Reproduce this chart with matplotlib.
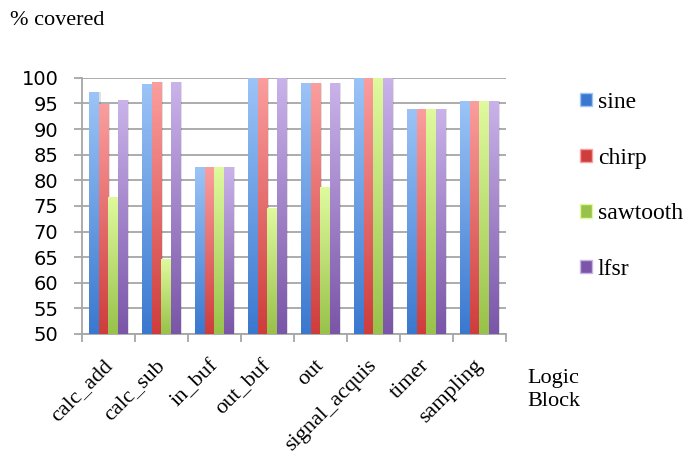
import matplotlib

matplotlib.use("Agg")
import matplotlib.pyplot as plt
import matplotlib.transforms as mtransforms
import numpy as np
from matplotlib.colors import LinearSegmentedColormap
from matplotlib.patches import Patch

blocks = ["calc_add", "calc_sub", "in_buf", "out_buf", "out",
          "signal_acquis", "timer", "sampling"]
series = ["sine", "chirp", "sawtooth", "lfsr"]
sine = [97.3, 98.8, 82.5, 100.0, 99.0, 100.0, 94.0, 95.5]
chirp = [94.8, 99.1, 82.5, 100.0, 98.9, 100.0, 94.0, 95.5]
sawtooth = [76.8, 64.7, 82.5, 74.6, 78.6, 100.0, 94.0, 95.5]
lfsr = [95.6, 99.1, 82.5, 100.0, 99.0, 100.0, 94.0, 95.5]

# (dark bottom, light top) for the gradient fill
SHADES = [("#3a78cf", "#9cc4f7"),
          ("#cf3c3c", "#fb9e9e"),
          ("#98c24a", "#e0fa9e"),
          ("#7a55a8", "#cab3ea")]
GRIDC = "#a6a6a6"
SERIF = "Liberation Serif"

fig = plt.figure(figsize=(6.89, 4.55), dpi=100)
ax = fig.add_axes([0.119, 0.266, 0.615, 0.563])

x = np.arange(len(blocks))
width = 0.18
ymin, ymax = 50, 100
grad = np.linspace(0, 1, 256).reshape(-1, 1)

for i, (vals, (dark, light), name) in enumerate(zip([sine, chirp, sawtooth, lfsr], SHADES, series)):
    pos = x - 1.5 * width + i * width
    bars = ax.bar(pos, np.array(vals) - ymin, width, bottom=ymin,
                  color="none", edgecolor="none", zorder=3)
    cmap = LinearSegmentedColormap.from_list(name, [dark, light])
    for b in bars:
        bx, by = b.get_x(), b.get_y()
        bw, bh = b.get_width(), b.get_height()
        # faint drop shadow
        ax.add_patch(plt.Rectangle((bx + 0.03, by), bw, bh, color="#000000",
                                   alpha=0.12, lw=0, zorder=2))
        im = ax.imshow(grad, extent=[bx, bx + bw, by, by + bh], origin="lower",
                       cmap=cmap, aspect="auto", zorder=3.5)
        im.set_clip_path(b)

ax.set_xlim(-0.5, len(blocks) - 0.5)
ax.set_ylim(ymin, ymax)
ax.set_yticks(np.arange(50, 101, 5))
ax.yaxis.grid(True, color=GRIDC, linewidth=1.3, zorder=0)
ax.set_axisbelow(True)

ax.set_xticks(x)
ax.set_xticklabels(blocks, rotation=45, ha="right", rotation_mode="anchor",
                   fontsize=16, family=SERIF)
ax.set_xticks(np.arange(-0.5, len(blocks)), minor=True)
ax.tick_params(axis="x", which="major", length=0, pad=16)
ax.tick_params(axis="x", which="minor", length=6, width=1.3, color=GRIDC)
ax.tick_params(axis="y", length=6, width=1.3, color=GRIDC, labelsize=14, pad=11)

for s in ["top", "right"]:
    ax.spines[s].set_visible(False)
for s in ["left", "bottom"]:
    ax.spines[s].set_color(GRIDC)
    ax.spines[s].set_linewidth(1.3)

fig.text(0.015, 0.956, "% covered", fontsize=16, family=SERIF, va="center")
fig.text(0.766, 0.143, "Logic\nBlock", fontsize=16, family=SERIF, va="center",
         linespacing=1.25)

handles = [Patch(facecolor=d, edgecolor=l) for d, l in SHADES]
ax.legend(handles, series, loc="upper left", bbox_to_anchor=(0.842, 0.798),
          bbox_transform=fig.transFigure, frameon=False, borderaxespad=0,
          borderpad=0, handlelength=0.5, handleheight=0.5, handletextpad=0.25,
          labelspacing=1.47, prop={"family": SERIF, "size": 17})

# nudge the rotated block labels a little to the left, after ticks exist
fig.canvas.draw()
shift = mtransforms.ScaledTranslation(-6 / 100, 0, fig.dpi_scale_trans)
for lab in ax.xaxis.get_majorticklabels():
    lab.set_transform(lab.get_transform() + shift)

fig.savefig("out.png", dpi=100)
